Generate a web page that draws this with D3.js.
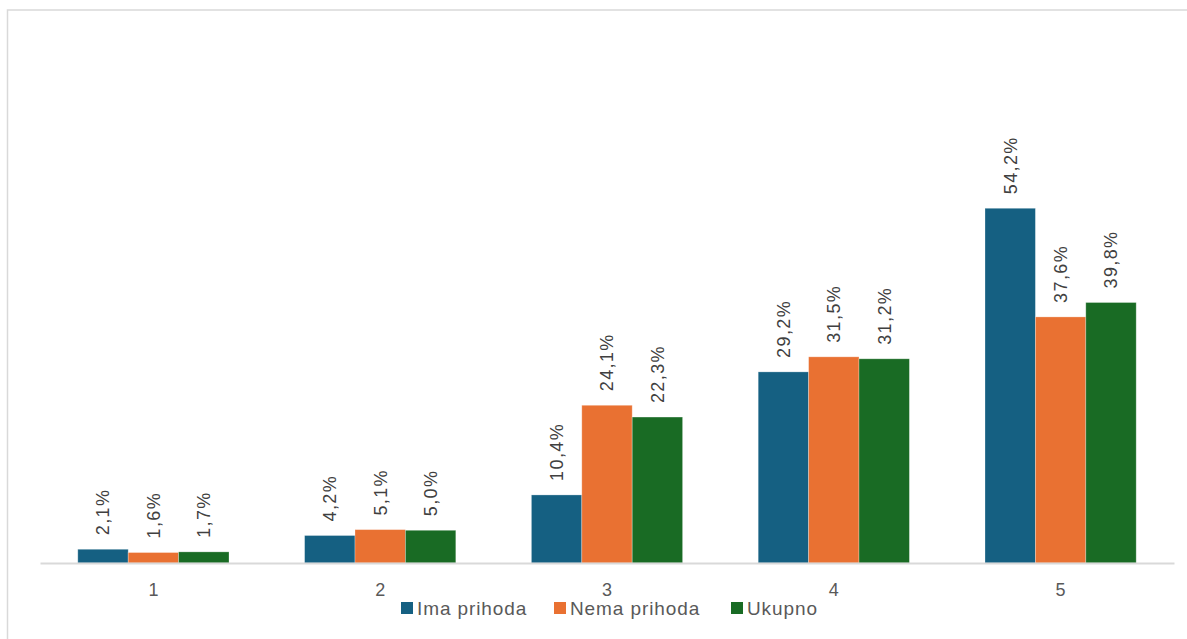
<!DOCTYPE html>
<html><head><meta charset="utf-8">
<script src="https://cdn.jsdelivr.net/npm/d3@7"></script>
<style>html,body{margin:0;padding:0;background:#fff;overflow:hidden}</style>
</head><body>
<svg id="c" width="1187" height="639"></svg>
<script>
const categories = ["1","2","3","4","5"];
const seriesNames = ["Ima prihoda","Nema prihoda","Ukupno"];
const imaPrihoda = [2.1, 4.2, 10.4, 29.2, 54.2];
const nemaPrihoda = [1.6, 5.1, 24.1, 31.5, 37.6];
const ukupno = [1.7, 5.0, 22.3, 31.2, 39.8];
const colors = ["#156082","#E97132","#196B24"];

const series = [imaPrihoda, nemaPrihoda, ukupno];
const svg = d3.select("#c");
const font = "'Liberation Sans', Arial, sans-serif";

// chart border
svg.append("rect").attr("x",7.5).attr("y",10).attr("width",1200).attr("height",700)
  .attr("fill","#fff").attr("stroke","#d9d9d9").attr("stroke-width",1.5);

const x0 = d3.scaleBand().domain(categories).range([40,1174]).paddingInner(1/3).paddingOuter(1/6);
const x1 = d3.scaleBand().domain(d3.range(3)).range([0, x0.bandwidth()]);
const y = d3.scaleLinear().domain([0,60]).range([563, 170.3]);

const fmt = v => d3.format(".1f")(v).replace(".", ",") + "%";

const g = svg.append("g");
categories.forEach((c, ci) => {
  series.forEach((s, si) => {
    const v = s[ci];
    const bx = x0(c) + x1(si);
    g.append("rect").attr("x", bx).attr("y", y(v)).attr("width", x1.bandwidth())
      .attr("height", y(0) - y(v)).attr("fill", colors[si])
      .attr("stroke","#ffffff").attr("stroke-opacity",0.35).attr("stroke-width",0.8);
    const cx = bx + x1.bandwidth()/2;
    const ty = y(v) - 14;
    g.append("text").attr("transform", `translate(${cx},${ty}) rotate(-90)`)
      .attr("text-anchor","start").attr("dy","0.35em")
      .attr("font-family", font).attr("font-size","18px").attr("letter-spacing","1.4px")
      .attr("fill","#404040")
      .text(fmt(v));
  });
});

// x axis
const xAxis = d3.axisBottom(x0).tickSize(0).tickPadding(20);
const ax = svg.append("g").attr("transform","translate(0,563)").call(xAxis);
ax.select(".domain").attr("stroke","#d9d9d9").attr("stroke-width",2);
ax.selectAll("text").attr("font-family", font).attr("font-size","18px").attr("fill","#595959");

// legend
const legX = [401, 554, 731];
const leg = svg.append("g");
seriesNames.forEach((n, i) => {
  leg.append("rect").attr("x", legX[i]).attr("y", 602).attr("width",12).attr("height",12).attr("fill", colors[i]);
  leg.append("text").attr("x", legX[i]+16).attr("y", 608).attr("dy","0.35em")
    .attr("font-family", font).attr("font-size","19px").attr("letter-spacing","0.9px")
    .attr("fill","#595959").text(n);
});
</script>
</body></html>
